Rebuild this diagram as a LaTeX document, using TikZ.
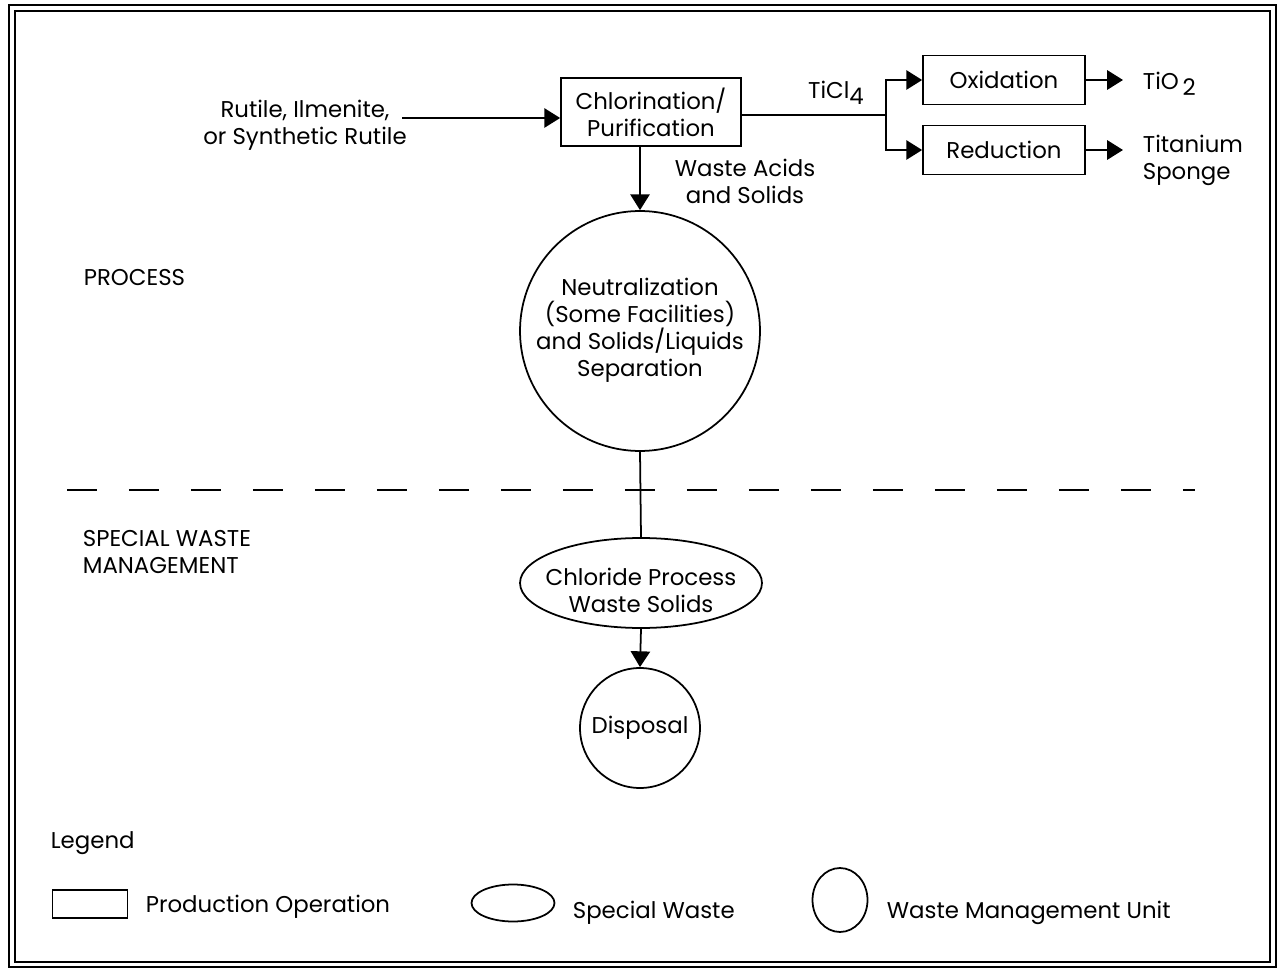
\documentclass[tikz,border=0pt]{standalone}
\usepackage{fontspec}
\setmainfont{Poppins}
\usetikzlibrary{arrows.meta,shapes.geometric,positioning}

\tikzset{
    flow/.style={line width=1pt, -{Triangle[length=9pt,width=11pt]}},
    opbox/.style={draw=black, line width=1pt, rectangle, inner sep=0pt,
        minimum width=#1, minimum height=0.98cm},
    unitring/.style={draw=black, line width=1pt, circle, inner sep=0pt, minimum size=#1},
    wasteoval/.style={draw=black, line width=1pt, ellipse, inner sep=0pt},
    tag/.style={align=left, inner sep=0pt}
}

\begin{document}
\begin{tikzpicture}[x=0.02cm, y=-0.02cm, line width=1pt,
    font=\fontsize{13}{15.3}\selectfont]
        \useasboundingbox (0,0) rectangle (1281,969);
        % draw double frame
        \path[draw=black, line width=1.6pt] (9,5) rectangle (1276,967);
        \path[draw=black, line width=1pt] (15,11) rectangle (1270,962);
        % production operations
        \node[opbox=3.6cm, minimum height=1.36cm, align=center] (chlor) at (651,112)
            {Chlorination/\\Purification};
        \node[opbox=3.24cm] (oxid) at (1004,80) {Oxidation};
        \node[opbox=3.24cm] (reduc) at (1004,150) {Reduction};
        % waste management units and special waste
        \node[unitring=4.8cm] (neut) at (640,331) {};
        \node[align=center] (neuttxt) at (640,330)
            {Neutralization\\(Some Facilities)\\and Solids/Liquids\\Separation};
        \node[wasteoval, minimum width=4.84cm, minimum height=1.8cm] (solids) at (641,583) {};
        \node[align=center] (solidstxt) at (641,590) {Chloride Process\\Waste Solids};
        \node[unitring=2.4cm] (disp) at (640,728) {Disposal};
        % stream labels
        \node[align=center] (feedtxt) at (305,125) {Rutile, Ilmenite,\\or Synthetic Rutile};
        \node[align=center] (acids) at (745,181) {Waste Acids\\and Solids};
        \node (ticl) at (836,93) {TiCl\raisebox{-0.45ex}{4}};
        \node[tag, anchor=west] (tio) at (1142,84) {TiO\raisebox{-0.5ex}{\,2}};
        \node[tag, anchor=west] (sponge) at (1142,160) {Titanium\\Sponge};
        % stream connectors
        \coordinate (feed) at (402,118);
        \coordinate (split) at (886,115);
        \coordinate (prodend) at (1123,0);
        \draw[flow] (feed) -- (feed -| chlor.west);
        \draw (chlor.east |- split) -- (split);
        \draw[flow] (split) |- (oxid.west);
        \draw[flow] (split) |- (reduc.west);
        \foreach \op in {oxid, reduc}{
            \draw[flow] (\op.east) -- (\op.east -| prodend);
        }
        \draw[flow] (chlor.south -| neut.north) -- (neut.north);
        \draw (neut.south) -- (solids.north);
        \draw[flow] (solids.south) -- (disp.north);
        % section boundary and names
        \draw[line width=1.1pt, dash pattern=on 0.6cm off 0.64cm] (67,490) -- (1195,490);
        \node[tag, anchor=west] (process) at (83,278) {PROCESS};
        \node[tag, anchor=west] (special) at (82,552) {SPECIAL WASTE\\MANAGEMENT};
        % legend
        \node[tag, anchor=west] (legend) at (50,843) {Legend};
        \node[draw=black, line width=1pt, inner sep=0pt, minimum width=1.5cm,
            minimum height=0.56cm] (legbox) at (90,904) {};
        \node[tag, anchor=west] (legboxtxt) at (145,907) {Production Operation};
        \node[wasteoval, minimum width=1.66cm, minimum height=0.74cm] (legoval) at (513,903) {};
        \node[tag, anchor=west] (legovaltxt) at (572,913) {Special Waste};
        \node[wasteoval, minimum width=1.1cm, minimum height=1.28cm] (legring) at (840,900) {};
        \node[tag, anchor=west] (legringtxt) at (886,913) {Waste Management Unit};
    \end{tikzpicture}
\end{document}
